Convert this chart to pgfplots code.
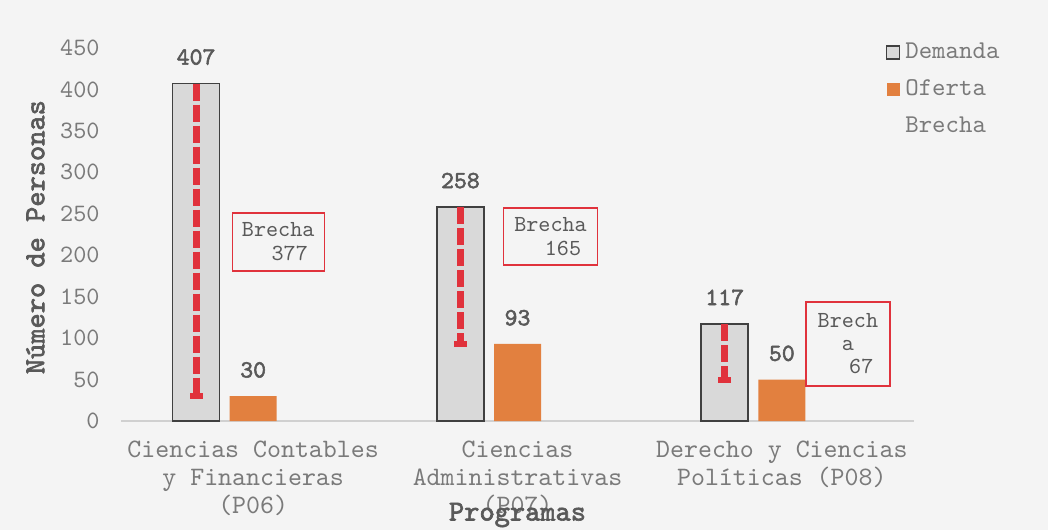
\documentclass[border=0pt]{standalone}
\usepackage{fontspec}
\setmainfont{lmmono10-regular.otf}[BoldFont=lmmono10-regular.otf, BoldFeatures={FakeBold=2.2}]
\usepackage{pgfplots}
\pgfplotsset{compat=1.18}
\definecolor{demfill}{HTML}{D9D9D9}
\definecolor{demdraw}{HTML}{404040}
\definecolor{ofe}{HTML}{E2803F}
\definecolor{bre}{HTML}{E0323C}
\definecolor{lbl}{HTML}{595959}
\definecolor{tck}{HTML}{7A7A7A}
\definecolor{axl}{HTML}{D0D0D0}
\definecolor{bg}{HTML}{F4F4F4}
\begin{document}
\begin{tikzpicture}
\fill[bg] (-60.5pt,-54.5pt) rectangle (463.5pt,210.5pt);
\begin{axis}[
  at={(0,0)}, anchor=south west,
  scale only axis, width=396.5pt, height=186.5pt,
  xmin=-0.5, xmax=2.5, ymin=0, ymax=450,
  axis x line*=bottom, axis y line*=left,
  y axis line style={draw=none},
  x axis line style={axl, line width=0.75pt, -},
  major tick length=0pt,
  ytick={0,50,...,450},
  xtick={0,1,2},
  xticklabels={{Ciencias Contables\\y Financieras\\(P06)},{Ciencias\\Administrativas\\(P07)},{Derecho y Ciencias\\Políticas (P08)}},
  /pgf/number format/assume math mode=true,
  tick label style={font=\fontsize{12.5}{13.75}\selectfont, text=tck},
  xticklabel style={align=center, anchor=north, inner sep=0pt, yshift=-10pt, font=\fontsize{13.3}{14}\selectfont},
  yticklabel style={anchor=east, inner sep=0pt, xshift=-10.5pt},
  ylabel={Número de Personas},
  xlabel={Programas},
  every axis y label/.style={at={(axis description cs:-0.108,0.493)}, rotate=90, anchor=center},
  every axis x label/.style={at={(axis description cs:0.5,-0.252)}, anchor=center},
  label style={font=\bfseries\fontsize{14.5}{16}\selectfont, text=lbl},
  legend style={at={(rel axis cs:0.964,1.016)}, anchor=north west, draw=none, fill=none,
    inner sep=0pt, row sep=8.5pt, column sep=2.5pt,
    font=\fontsize{12.8}{13}\selectfont, text=tck,
    nodes={inner sep=0pt, text height=8pt, text depth=2pt},
    cells={anchor=west}},
  clip=false,
]
\addplot[ybar, bar width=23.5pt, bar shift=0pt, fill=demfill, draw=demdraw, line width=0.75pt,
  nodes near coords,
  nodes near coords style={anchor=south, inner sep=0pt, yshift=9pt, text=lbl, font=\bfseries\fontsize{12.3}{13}\selectfont},
  legend image code/.code={\draw[fill=demfill, draw=demdraw, line width=0.75pt] (0pt,-3.25pt) rectangle (6.5pt,3.25pt);}]
  coordinates {(-0.216,407) (0.784,258) (1.784,117)};
\addlegendentry{Demanda}
\addplot[ybar, bar width=23.5pt, bar shift=0pt, fill=ofe, draw=none,
  nodes near coords,
  nodes near coords style={anchor=south, inner sep=0pt, yshift=9pt, text=lbl, font=\bfseries\fontsize{12.3}{13}\selectfont},
  legend image code/.code={\fill[ofe] (0pt,-3.25pt) rectangle (6.5pt,3.25pt);}]
  coordinates {(0,30) (1,93) (2,50)};
\addlegendentry{Oferta}
\addplot[draw=none, mark=none,
  legend image code/.code={},
  error bars/.cd, y dir=minus, y explicit, error mark=none,
  error bar style={draw=bre, solid, line width=3.5pt, line cap=butt, dash pattern=on 8.5pt off 2pt}]
  coordinates {(-0.216,407) -= (0,377) (0.784,258) -= (0,165) (1.784,117) -= (0,67)};
\addlegendentry{Brecha}
\addplot[only marks, mark=-, mark size=3.25pt, bre, line width=3pt, forget plot]
  coordinates {(-0.216,30) (0.784,93) (1.784,50)};
\node[draw=bre, line width=0.6pt, minimum width=46pt, minimum height=29pt, inner sep=0pt,
  font=\fontsize{11.5}{12}\selectfont, text=lbl, align=left] at (axis cs:0.0947,216) {Brecha\\\hspace*{1.29em}377};
\node[draw=bre, line width=0.6pt, minimum width=47pt, minimum height=28.5pt, inner sep=0pt,
  font=\fontsize{11.5}{12}\selectfont, text=lbl, align=left] at (axis cs:1.125,222.6) {Brecha\\\hspace*{1.33em}165};
\node[draw=bre, line width=0.6pt, minimum width=42pt, minimum height=42pt, inner sep=0pt,
  font=\fontsize{11.5}{11.5}\selectfont, text=lbl, align=left] at (axis cs:2.25,92.9) {Brech\\\hspace*{1.05em}a\\\hspace*{1.37em}67};
\end{axis}
\pgfresetboundingbox
\path (-60.5pt,-54.5pt) rectangle (463.5pt,210.5pt);
\end{tikzpicture}
\end{document}
